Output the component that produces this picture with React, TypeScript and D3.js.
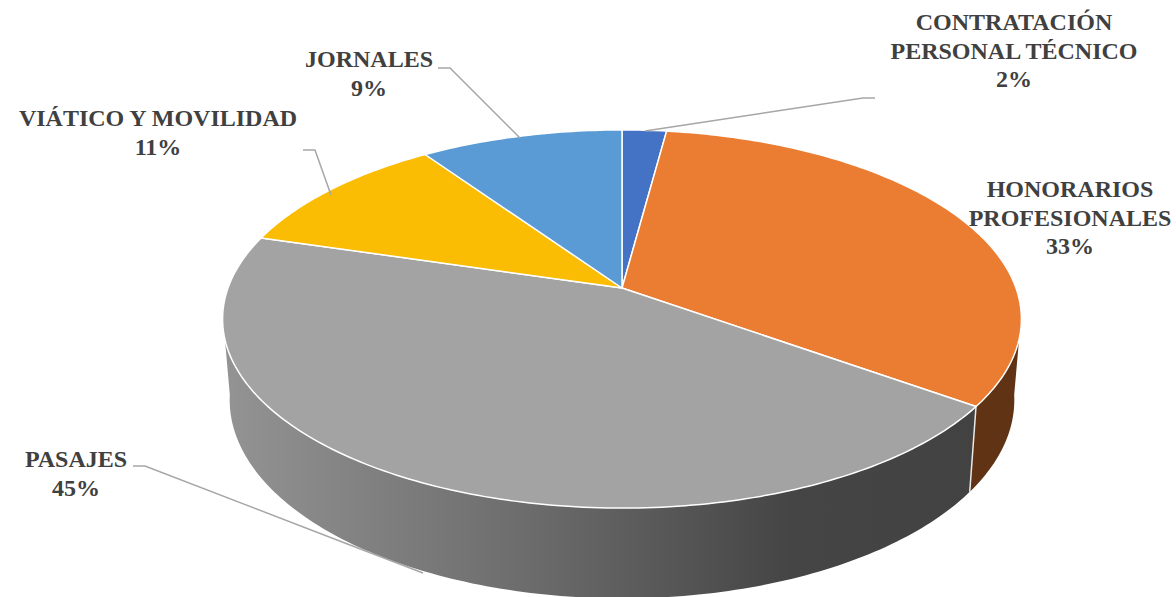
import React from 'react';
import * as d3 from 'd3';

const categories = ['CONTRATACIÓN PERSONAL TÉCNICO', 'HONORARIOS PROFESIONALES', 'PASAJES', 'VIÁTICO Y MOVILIDAD', 'JORNALES'];
const shares = [2.1, 32.8, 44.7, 10.8, 9.6]; // slice sizes as measured on the picture
const percentLabels = ['2%', '33%', '45%', '11%', '9%'];
const colors = ['#4472C4', '#EB7D32', '#A3A3A3', '#FBBC04', '#5B9BD5'];
const wallColors = ['none', '#5F3314', 'url(#wallGrad)', 'none', 'none'];

const nameLines = [
  ['CONTRATACIÓN', 'PERSONAL TÉCNICO'],
  ['HONORARIOS', 'PROFESIONALES'],
  ['PASAJES'],
  ['VIÁTICO Y MOVILIDAD'],
  ['JORNALES'],
];
const labelAnchors: [number, number][] = [[1014, 30], [1070, 197], [76, 467], [158, 126], [369, 67]];
const leaders: [number, number][][] = [
  [[645, 131], [863, 98], [875, 98]],
  [],
  [[133, 466], [145, 466], [350, 545], [423, 573]],
  [[303, 150], [315, 150], [331, 195]],
  [[438, 68], [450, 68], [520, 138]],
];

const width = 1176;
const height = 597;
const tilt = 0.164; // perspective of the disc
const topDisc = { x: 622, y: 288, rx: 394, ry: 184 };
const bottomDisc = { x: 622, y: 367.5, rx: 387, ry: 193 };
const wallStart = (98 * Math.PI) / 180; // right silhouette
const wallEnd = (262 * Math.PI) / 180; // left silhouette

type Disc = typeof topDisc;
const project = (d: Disc, a: number): [number, number] => {
  const u = Math.sin(a);
  const v = Math.cos(a);
  const w = 1 + tilt * v;
  return [d.x + (d.rx * u) / w, d.y - (d.ry * v) / w];
};
const rim = (d: Disc, a0: number, a1: number) => {
  const n = Math.max(2, Math.ceil(Math.abs(a1 - a0) * 60));
  return d3.range(n + 1).map((i) => project(d, a0 + ((a1 - a0) * i) / n));
};

export default function App() {
  const line = d3.line();
  const arcs = d3.pie<number>().sort(null).value((d) => d)(shares);

  return (
    <svg width={width} height={height} style={{ position: 'absolute', left: 0, top: 0 }}>
      <defs>
        <linearGradient id="wallGrad" gradientUnits="userSpaceOnUse" x1="228" x2="976" y1="0" y2="0">
          <stop offset="0" stopColor="#939393" />
          <stop offset="0.4" stopColor="#6C6C6C" />
          <stop offset="0.75" stopColor="#454545" />
          <stop offset="1" stopColor="#424242" />
        </linearGradient>
      </defs>
      {arcs.map((a, i) => {
        const from = Math.max(a.startAngle, wallStart);
        const to = Math.min(a.endAngle, wallEnd);
        if (wallColors[i] === 'none' || to <= from) return null;
        const pts = [...rim(topDisc, from, to), ...rim(bottomDisc, to, from)];
        return <path key={i} d={line(pts) + 'Z'} fill={wallColors[i]} />;
      })}
      {/* seam between the two visible walls */}
      <path
        d={line([project(topDisc, arcs[1].endAngle), project(bottomDisc, arcs[1].endAngle)]) as string}
        stroke="#E8E8E8"
        strokeWidth={1.5}
        fill="none"
      />
      {arcs.map((a, i) => (
        <path
          key={i}
          d={line([[topDisc.x, topDisc.y], ...rim(topDisc, a.startAngle, a.endAngle)]) + 'Z'}
          fill={colors[i]}
          stroke="#fff"
          strokeWidth={1.5}
          strokeLinejoin="round"
        >
          <title>{categories[i]}</title>
        </path>
      ))}
      {leaders.map((pts, i) =>
        pts.length ? <path key={i} d={line(pts) as string} fill="none" stroke="#A6A6A6" strokeWidth={1.5} /> : null
      )}
      {nameLines.map((lines, i) => (
        <text
          key={i}
          textAnchor="middle"
          fontFamily="'Liberation Serif', serif"
          fontWeight="bold"
          fontSize={24}
          fill="#404040"
        >
          {[...lines, percentLabels[i]].map((t, j) => (
            <tspan key={j} x={labelAnchors[i][0]} y={labelAnchors[i][1] + j * 28.5}>
              {t}
            </tspan>
          ))}
        </text>
      ))}
    </svg>
  );
}
